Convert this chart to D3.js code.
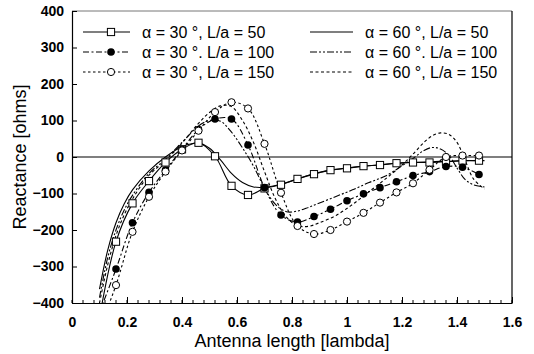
<!DOCTYPE html>
<html><head><meta charset="utf-8">
<script src="https://cdn.jsdelivr.net/npm/d3@7"></script>
<style>body{margin:0;background:#fff}</style>
</head><body>
<svg id="c" width="534" height="354"></svg>
<script>
// ---- data ----
const markerX = [0.10,0.16,0.22,0.28,0.34,0.40,0.46,0.52,0.58,0.64,0.70,0.76,0.82,0.88,0.94,1.00,1.06,1.12,1.18,1.24,1.30,1.36,1.42,1.48];
const a30L50  = [-440,-232,-127,-66,-15,21,39,2,-79,-104,-86,-76,-60,-47,-36,-31,-25,-22,-17,-15,-15,-13,-10,-10];
const a30L100 = [-425,-307,-180,-97,-36,21,75,104,104,33,-84,-159,-178,-163,-143,-120,-101,-84,-68,-51,-40,-26,-28,-48];
const a30L150 = [-470,-351,-205,-109,-40,18,72,123,150,133,36,-98,-189,-211,-200,-177,-153,-125,-97,-72,-35,0,4,4];
const lineX60 = [0.10,0.13,0.16,0.19,0.22,0.28,0.34,0.40,0.46,0.50,0.54,0.58,0.62,0.66,0.70,0.74,0.78,0.82,0.86,0.90,0.96,1.02,1.08,1.14,1.20,1.24,1.28,1.31,1.34,1.37,1.40,1.43,1.46,1.50];
const a60L50  = [-362,-255,-180,-128,-90,-38,0,28,38,24,-8,-45,-70,-82,-83,-78,-70,-60,-50,-42,-34,-28,-24,-20,-16,-15,-14,-13,-12,-12,-11,-10,-10,-10];
const a60L100 = [-385,-275,-200,-145,-105,-45,-6,40,85,100,98,68,25,-25,-85,-130,-150,-148,-138,-126,-108,-90,-70,-52,-24,-4,18,26,22,5,-30,-62,-76,-82];
const a60L150 = [-400,-295,-215,-158,-115,-50,-10,38,92,122,140,138,100,40,-40,-115,-165,-188,-190,-180,-160,-130,-95,-60,-22,8,40,58,66,62,40,-10,-60,-88];
const xTicks = [0,0.2,0.4,0.6,0.8,1,1.2,1.4,1.6];
const xTickLabels = ["0","0.2","0.4","0.6","0.8","1","1.2","1.4","1.6"];
const yTicks = [-400,-300,-200,-100,0,100,200,300,400];
const legendLabels = ["\u03b1 = 30 \u00b0, L/a = 50","\u03b1 = 30 \u00b0. L/a = 100","\u03b1 = 30 \u00b0, L/a = 150",
                      "\u03b1 = 60 \u00b0, L/a = 50","\u03b1 = 60 \u00b0. L/a = 100","\u03b1 = 60 \u00b0, L/a = 150"];
const xTitle = "Antenna length [lambda]";
const yTitle = "Reactance [ohms]";

// ---- layout ----
const W=534,H=354,m={l:72,r:22,t:11,b:51};
const svg=d3.select("#c");
const x=d3.scaleLinear().domain([0,1.6]).range([m.l,W-m.r]);
const y=d3.scaleLinear().domain([-400,400]).range([H-m.b,m.t]);
const font="Liberation Sans, Arial, sans-serif";

svg.append("defs").append("clipPath").attr("id","clip").append("rect")
  .attr("x",m.l).attr("y",m.t).attr("width",W-m.l-m.r).attr("height",H-m.t-m.b);

// zero line
svg.append("line").attr("x1",x(0)).attr("x2",x(1.6)).attr("y1",y(0)).attr("y2",y(0))
  .attr("stroke","#555").attr("stroke-width",1.5);

const series=[
  {xs:markerX, ys:a30L50,  dash:null,        marker:"square"},
  {xs:markerX, ys:a30L100, dash:"6,2.5,2,2.5",marker:"filled"},
  {xs:markerX, ys:a30L150, dash:"2.5,2.5",   marker:"open"},
  {xs:lineX60, ys:a60L50,  dash:null,        marker:null},
  {xs:lineX60, ys:a60L100, dash:"7,2,2,2,2,2",marker:null},
  {xs:lineX60, ys:a60L150, dash:"3,2.5",     marker:null}
];
const line=d3.line().x(d=>x(d[0])).y(d=>y(d[1])).curve(d3.curveCatmullRom.alpha(0.5));
const g=svg.append("g").attr("clip-path","url(#clip)");
function drawMarker(sel,type,cx,cy){
  if(type==="square") sel.append("rect").attr("x",cx-3.6).attr("y",cy-3.6).attr("width",7.2).attr("height",7.2)
      .attr("fill","#fff").attr("stroke","#000").attr("stroke-width",1);
  else if(type==="filled") sel.append("circle").attr("cx",cx).attr("cy",cy).attr("r",3.8).attr("fill","#000");
  else if(type==="open") sel.append("circle").attr("cx",cx).attr("cy",cy).attr("r",3.6)
      .attr("fill","#fff").attr("stroke","#000").attr("stroke-width",1);
}
series.forEach(s=>{
  const pts=s.xs.map((v,i)=>[v,s.ys[i]]);
  g.append("path").attr("d",line(pts)).attr("fill","none").attr("stroke","#000")
    .attr("stroke-width",1.1).attr("stroke-dasharray",s.dash);
});
series.forEach(s=>{
  if(!s.marker) return;
  s.xs.forEach((v,i)=>drawMarker(g,s.marker,x(v),y(s.ys[i])));
});

// frame
svg.append("line").attr("x1",x(0)).attr("x2",x(1.6)).attr("y1",y(400)).attr("y2",y(400)).attr("stroke","#777").attr("stroke-width",1);
svg.append("line").attr("x1",x(1.6)).attr("x2",x(1.6)).attr("y1",y(400)).attr("y2",y(-400)).attr("stroke","#000").attr("stroke-width",1.2);

// axes
const xAxis=d3.axisBottom(x).tickValues(xTicks).tickFormat((d,i)=>xTickLabels[i]).tickSizeInner(-6).tickSizeOuter(0).tickPadding(14);
const gx=svg.append("g").attr("transform",`translate(0,${H-m.b})`).call(xAxis);
const minor=d3.range(0,1.6001,0.04);
gx.selectAll(".minor").data(minor).enter().append("line").attr("class","minor")
  .attr("x1",d=>x(d)).attr("x2",d=>x(d)).attr("y1",0).attr("y2",-3).attr("stroke","#000");
const yAxis=d3.axisLeft(y).tickValues(yTicks).tickSizeInner(-5).tickSizeOuter(0).tickPadding(8);
const gy=svg.append("g").attr("transform",`translate(${m.l},0)`).call(yAxis);
[gx,gy].forEach(a=>{
  a.selectAll("text").attr("font-family",font).attr("font-weight","bold").attr("font-size",14).attr("fill","#000");
  a.select(".domain").attr("stroke","#000").attr("stroke-width",1.2);
  a.selectAll(".tick line").attr("stroke","#000");
});

// titles
svg.append("text").attr("x",(x(0)+x(1.6))/2).attr("y",347).attr("text-anchor","middle")
  .attr("font-family",font).attr("font-size",18).text(xTitle);
svg.append("text").attr("transform",`translate(26,${y(0)}) rotate(-90)`).attr("text-anchor","middle")
  .attr("font-family",font).attr("font-size",18).text(yTitle);

// legend
const legRows=[32,52,72];
const cols=[{x1:83,x2:130,tx:142},{x1:310,x2:353,tx:365}];
series.forEach((s,i)=>{
  const c=cols[Math.floor(i/3)], ry=legRows[i%3];
  svg.append("line").attr("x1",c.x1).attr("x2",c.x2).attr("y1",ry).attr("y2",ry)
    .attr("stroke","#000").attr("stroke-width",1.1).attr("stroke-dasharray",s.dash);
  if(s.marker) drawMarker(svg,s.marker,111,ry);
  svg.append("text").attr("x",c.tx).attr("y",ry).attr("dy","0.35em").attr("font-family",font)
    .attr("font-size",16).text(legendLabels[i]);
});
</script>
</body></html>
